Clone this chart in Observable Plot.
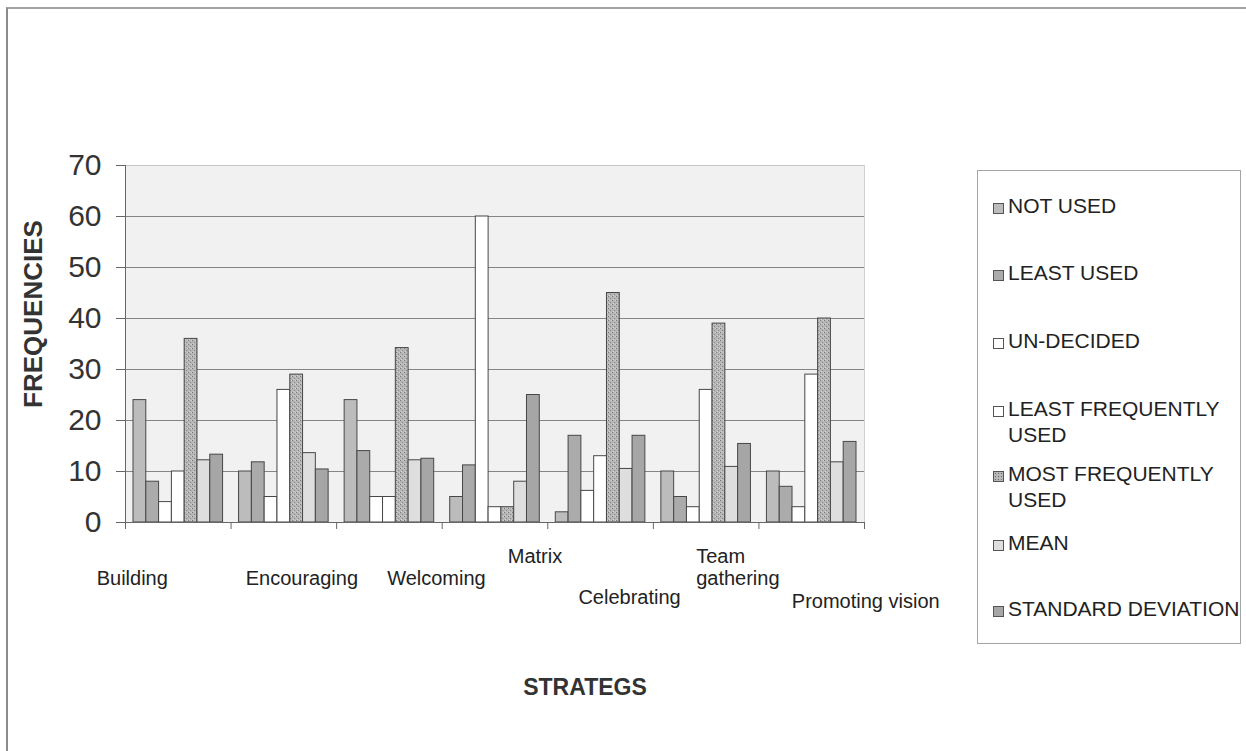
<!DOCTYPE html>
<html>
<head>
<meta charset="utf-8">
<script src="https://cdn.jsdelivr.net/npm/d3@7"></script>
<script src="https://cdn.jsdelivr.net/npm/@observablehq/plot@0.6"></script>
<style>
  html, body { margin: 0; padding: 0; background: #ffffff; }
  #page { position: relative; width: 1246px; height: 751px; overflow: hidden;
          font-family: "Liberation Sans", Arial, sans-serif; }
  #border { position: absolute; left: 6px; top: 7px; width: 1300px; height: 800px;
            border-top: 2px solid #a2a2a2; border-left: 2px solid #8c8c8c; }
  #chart { position: absolute; left: 0; top: 0; }
  #legend { position: absolute; left: 977px; top: 170px; width: 262px; height: 472px;
            border: 1px solid #a5a5a5; background: #ffffff; }
  .item { position: absolute; left: 15px; width: 240px; }
  .sw { position: absolute; left: 0; top: 10px; width: 9px; height: 9px; border: 1px solid #555; }
  .lbl { position: absolute; left: 15px; width: 232px; font-size: 21px; line-height: 26px; color: #222; }
</style>
</head>
<body>
<div id="page">
  <div id="border"></div>
  <div id="chart"></div>
  <div id="legend"></div>
</div>
<script>
// Strategy categories along the x axis
const categories = ["Building", "Encouraging", "Welcoming", "Matrix", "Celebrating", "Team\ngathering", "Promoting vision"];

// Response series, in legend order
const seriesNames = ["NOT USED", "LEAST USED", "UN-DECIDED", "LEAST FREQUENTLY USED", "MOST FREQUENTLY USED", "MEAN", "STANDARD DEVIATION"];

// Frequencies per strategy for each series
const notUsed             = [24, 10, 24, 5, 2, 10, 10];
const leastUsed           = [8, 11.8, 14, 11.2, 17, 5, 7];
const unDecided           = [4, 5, 5, 60, 6.2, 3, 3];
const leastFrequentlyUsed = [10, 26, 5, 3, 13, 26, 29];
const mostFrequentlyUsed  = [36, 29, 34.2, 3, 45, 39, 40];
const meanValues          = [12.2, 13.6, 12.2, 8, 10.5, 10.9, 11.8];
const stdDeviation        = [13.3, 10.4, 12.5, 25, 17, 15.4, 15.8];

// y axis tick values
const yTicks = [0, 10, 20, 30, 40, 50, 60, 70];

// Series fills (the stippled one uses an SVG pattern)
const seriesFill = ["#bcbcbc", "#ababab", "#ffffff", "#ffffff", "url(#stipple)", "#dedede", "#a6a6a6"];
const legendFill = ["#bcbcbc", "#ababab", "#ffffff", "#ffffff", "#b8b8b8", "#dedede", "#a6a6a6"];

// Category label placement relative to each group's centre (px)
const labelLayout = [
  {dx: -46, dy: 55, anchor: "middle"},
  {dx: 18, dy: 55, anchor: "middle"},
  {dx: 47, dy: 55, anchor: "middle"},
  {dx: 40, dy: 33, anchor: "middle"},
  {dx: 29, dy: 74, anchor: "middle"},
  {dx: -10, dy: 44, anchor: "start"},
  {dx: 54, dy: 78, anchor: "middle"}
];

const seriesValues = [notUsed, leastUsed, unDecided, leastFrequentlyUsed, mostFrequentlyUsed, meanValues, stdDeviation];
const rows = [];
seriesValues.forEach((vals, s) => vals.forEach((v, g) => rows.push({g, s, series: seriesNames[s], value: v})));

// Bars within a group: seven equal slots, centred with a gap between groups
const slot = 0.1212;
const lead = (1 - seriesNames.length * slot) / 2;

const font = "'Liberation Sans', Arial, sans-serif";

const labelMarks = categories.map((c, i) =>
  Plot.text([c], {
    x: () => i + 0.5, y: () => 0,
    dx: labelLayout[i].dx, dy: labelLayout[i].dy,
    textAnchor: labelLayout[i].anchor, lineAnchor: "middle", lineHeight: 1.1,
    fontSize: 20, fill: "#222"
  })
);

const svg = Plot.plot({
  width: 1246,
  height: 751,
  marginLeft: 125,
  marginRight: 382,
  marginTop: 165,
  marginBottom: 229,
  x: {domain: [0, categories.length], axis: null},
  y: {domain: [0, 70], axis: null},
  color: {domain: seriesNames, range: seriesFill},
  style: {fontFamily: font, background: "transparent", overflow: "visible", color: "#333"},
  marks: [
    Plot.frame({fill: "#f1f1f1", stroke: null}),
    Plot.ruleY([70], {stroke: "#c8c8c8"}),
    Plot.gridY([10, 20, 30, 40, 50, 60], {stroke: "#858585", strokeOpacity: 1}),
    Plot.ruleX([categories.length], {stroke: "#d0d0d0"}),
    Plot.rect(rows, {
      x1: d => d.g + lead + d.s * slot,
      x2: d => d.g + lead + (d.s + 1) * slot,
      y1: 0,
      y2: "value",
      fill: "series",
      stroke: "#474747",
      strokeWidth: 1
    }),
    Plot.axisY({ticks: yTicks, tickSize: 9, tickPadding: 15, fontSize: 30, label: null, stroke: "#666", fill: "#333"}),
    Plot.ruleX([0], {stroke: "#666"}),
    Plot.axisX({ticks: d3.range(0, categories.length + 1), tickSize: 7, tickFormat: () => "", label: null, stroke: "#666"}),
    Plot.ruleY([0], {stroke: "#666"}),
    ...labelMarks,
    Plot.text(["FREQUENCIES"], {
      frameAnchor: "left", textAnchor: "middle", rotate: -90, dx: -92, dy: -30,
      fontSize: 26, fontWeight: "bold", fill: "#333"
    }),
    Plot.text(["STRATEGS"], {
      frameAnchor: "bottom", textAnchor: "middle", dx: 90, dy: 172,
      fontSize: 23, fontWeight: "bold", fill: "#333"
    })
  ]
});

// Stipple pattern for the "most frequently used" bars
const defs = document.createElementNS("http://www.w3.org/2000/svg", "defs");
defs.innerHTML =
  '<pattern id="stipple" width="4" height="4" patternUnits="userSpaceOnUse">' +
  '<rect width="4" height="4" fill="#b6b6b6"/>' +
  '<rect x="0" y="0" width="1" height="1" fill="#7a7a7a"/>' +
  '<rect x="2" y="2" width="1" height="1" fill="#8a8a8a"/>' +
  '<rect x="3" y="0" width="1" height="1" fill="#d2d2d2"/>' +
  '<rect x="1" y="3" width="1" height="1" fill="#d0d0d0"/>' +
  '</pattern>';
svg.insertBefore(defs, svg.firstChild);
document.getElementById("chart").appendChild(svg);

// Legend
const legendTops = [205, 272, 340, 408, 473, 542, 608];
const legend = document.getElementById("legend");
seriesNames.forEach((name, i) => {
  const item = document.createElement("div");
  item.className = "item";
  item.style.top = (legendTops[i] - 13 - 170) + "px";
  const sw = document.createElement("div");
  sw.className = "sw";
  sw.style.background = legendFill[i];
  if (i === 4) {
    sw.style.backgroundImage = "radial-gradient(#666 0.6px, transparent 0.8px)";
    sw.style.backgroundSize = "3px 3px";
  }
  const lbl = document.createElement("div");
  lbl.className = "lbl";
  lbl.textContent = name;
  item.appendChild(sw);
  item.appendChild(lbl);
  legend.appendChild(item);
});
</script>
</body>
</html>
